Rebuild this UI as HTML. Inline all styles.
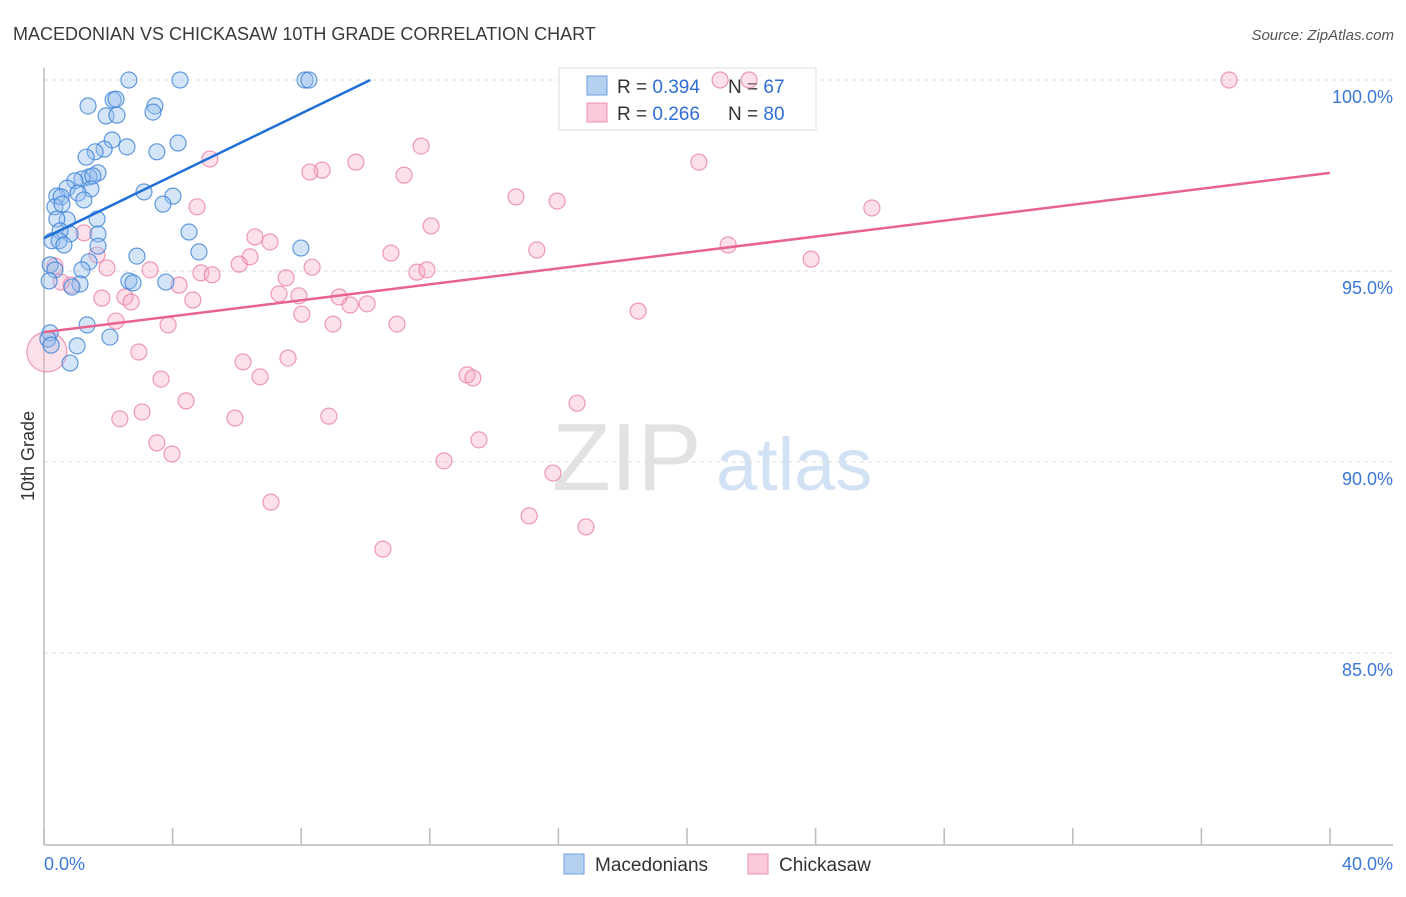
<!DOCTYPE html>
<html><head><meta charset="utf-8"><style>
body{margin:0;background:#fff;font-family:"Liberation Sans",sans-serif}
svg text{font-family:"Liberation Sans",sans-serif}
</style></head><body>
<svg id="chart" width="1406" height="892" viewBox="0 0 1406 892" xmlns="http://www.w3.org/2000/svg">
<text x="13" y="40" font-size="18" fill="#3a3a3a">MACEDONIAN VS CHICKASAW 10TH GRADE CORRELATION CHART</text>
<text x="1394" y="40" font-size="15" fill="#555" text-anchor="end" font-style="italic">Source: ZipAtlas.com</text>
<g>
<text x="552" y="490" font-size="96" fill="#e2e2e2" font-family="Liberation Serif,serif">ZIP</text>
<text x="716" y="490" font-size="74" fill="#d2e2f4">atlas</text>
</g>
<g id="grid"></g>
<g id="axes"></g>
<g>
<rect x="559" y="68" width="257" height="62" fill="#fff" stroke="#ddd"/>
<rect x="587" y="76" width="20" height="19" fill="#b5d1f2" stroke="#6a9fe0"/>
<rect x="587" y="103" width="20" height="19" fill="#fbc9d8" stroke="#ee93b1"/>
<text x="617" y="93" font-size="19" fill="#333">R = <tspan fill="#2f6fd6">0.394</tspan></text>
<text x="728" y="93" font-size="19" fill="#333">N = <tspan fill="#2f6fd6">67</tspan></text>
<text x="617" y="120" font-size="19" fill="#333">R = <tspan fill="#2f6fd6">0.266</tspan></text>
<text x="728" y="120" font-size="19" fill="#333">N = <tspan fill="#2f6fd6">80</tspan></text>
</g>
<g id="pink"></g>
<g id="blue"></g>
<g id="trends"></g>
<text transform="translate(34,456) rotate(-90)" font-size="18" fill="#333" text-anchor="middle">10th Grade</text>
<g>
<rect x="564" y="854" width="20" height="20" fill="#b5d1f2" stroke="#6a9fe0"/>
<text x="595" y="871" font-size="19" fill="#333">Macedonians</text>
</g>
<g>
<rect x="748" y="854" width="20" height="20" fill="#fbc9d8" stroke="#ee93b1"/>
<text x="779" y="871" font-size="19" fill="#333">Chickasaw</text>
</g>
</svg>
<script>
const blueX=[2.64,4.23,8.12,8.24,1.37,2.15,2.24,3.45,3.39,1.93,2.27,2.12,1.87,1.59,2.58,4.17,3.51,1.31,1.68,1.40,1.18,0.96,1.52,0.72,1.46,1.06,0.40,0.53,1.24,3.11,4.01,3.70,0.34,0.56,0.72,0.40,1.65,4.51,1.68,0.81,0.50,0.25,0.47,0.62,1.68,7.99,4.82,2.89,1.40,0.19,1.18,0.34,2.64,2.77,3.79,0.16,1.12,0.87,1.34,0.19,0.12,1.03,2.05,0.81,0.22];
const blueY=[100,100,100,100,99.32,99.48,99.50,99.32,99.16,99.06,99.08,98.43,98.19,98.12,98.25,98.35,98.12,97.98,97.57,97.46,97.41,97.36,97.49,97.17,97.15,97.04,96.96,96.94,96.86,97.07,96.96,96.75,96.68,96.75,96.34,96.36,96.36,96.02,95.97,95.97,96.05,95.79,95.79,95.68,95.65,95.60,95.50,95.39,95.24,95.16,95.03,95.03,94.74,94.69,94.71,94.74,94.66,94.58,93.59,93.38,93.22,93.04,93.27,92.59,93.06];
const pinkX=[21.03,21.93,36.86,5.16,11.73,9.70,8.65,8.27,11.20,20.37,14.68,15.96,4.76,25.75,12.04,1.24,6.56,7.03,15.33,10.79,21.28,23.86,1.65,6.41,1.96,3.30,6.07,8.34,0.34,4.88,5.23,7.53,11.60,11.91,0.84,0.53,4.20,1.80,2.52,2.71,4.63,7.31,7.93,9.18,9.52,10.05,8.02,18.48,2.24,3.86,8.99,10.98,2.95,6.19,7.59,3.64,6.72,13.16,13.34,4.42,16.58,3.05,2.36,5.94,8.86,3.51,3.98,13.53,12.44,15.83,7.06,15.09,16.86,10.54,0.09];
const pinkY=[100,100,100,97.93,98.27,97.85,97.64,97.59,97.51,97.85,96.94,96.83,96.68,96.65,96.18,96.0,95.89,95.76,95.55,95.47,95.68,95.31,95.42,95.37,95.08,95.03,95.18,95.10,95.13,94.95,94.90,94.82,94.97,95.03,94.63,94.71,94.63,94.29,94.32,94.19,94.24,94.40,94.35,94.32,94.11,94.14,93.87,93.95,93.69,93.59,93.61,93.61,92.88,92.62,92.72,92.17,92.23,92.28,92.20,91.60,91.54,91.31,91.13,91.15,91.20,90.50,90.21,90.58,90.03,89.71,88.95,88.59,88.30,87.72,92.88];
const blueTrendX=[0,10.15], blueTrendY=[95.86,100];
const pinkTrendX=[0,40], pinkTrendY=[93.40,97.57];
const yTicks=[100,95,90,85];
const yTickLabels=["100.0%","95.0%","90.0%","85.0%"];
const xTickVals=[0,4,8,12,16,20,24,28,32,36,40];

const X0=44,X1=1330,YTOP=80,YPX5=191;
const sx=v=>X0+(v/40)*(X1-X0);
const sy=v=>YTOP+(100-v)/5*YPX5;
const NS="http://www.w3.org/2000/svg";
function mk(tag,attrs,parent){const e=document.createElementNS(NS,tag);for(const k in attrs)e.setAttribute(k,attrs[k]);parent.appendChild(e);return e;}
const grid=document.getElementById('grid'),axes=document.getElementById('axes');
yTicks.forEach((t,i)=>{
 const l=mk('line',{x1:44,x2:1393,y1:sy(t),y2:sy(t),stroke:'#ddd','stroke-dasharray':'4,4'},grid);
 
 
 const tx=mk('text',{x:1393,y:sy(t)+23,'font-size':18,fill:'#3b78d8','text-anchor':'end'},axes);
 tx.textContent=yTickLabels[i];
 
 
});
const ya=mk('line',{x1:44,x2:44,y1:68,y2:845,stroke:'#bbb','stroke-width':1.5},axes);


const xa=mk('line',{x1:44,x2:1393,y1:845,y2:845,stroke:'#bbb','stroke-width':1.5},axes);


xTickVals.forEach(v=>{
 const t=mk('line',{x1:sx(v),x2:sx(v),y1:828,y2:845,stroke:'#bbb','stroke-width':1.5},axes);
 
 
});
const xl0=mk('text',{x:44,y:870,'font-size':18,fill:'#3b78d8'},axes);xl0.textContent='0.0%';


const xl1=mk('text',{x:1393,y:870,'font-size':18,fill:'#3b78d8','text-anchor':'end'},axes);xl1.textContent='40.0%';



const pinkG=document.getElementById('pink');
pinkX.forEach((x,i)=>{
 const big=i===pinkX.length-1;
 const c=mk('circle',{cx:sx(x),cy:sy(pinkY[i]),r:big?20:8,fill:'rgba(246,170,195,0.35)',stroke:'rgba(232,120,160,0.75)','stroke-width':1.2},pinkG);
 
 
});
const blueG=document.getElementById('blue');
blueX.forEach((x,i)=>{
 const c=mk('circle',{cx:sx(x),cy:sy(blueY[i]),r:8,fill:'rgba(150,190,238,0.4)',stroke:'rgba(60,130,215,0.8)','stroke-width':1.2},blueG);
 
 
});
const tr=document.getElementById('trends');
const bl=mk('line',{x1:sx(blueTrendX[0]),y1:sy(blueTrendY[0]),x2:sx(blueTrendX[1]),y2:sy(blueTrendY[1]),stroke:'#1f6fd6','stroke-width':2.5},tr);


const pl=mk('line',{x1:sx(pinkTrendX[0]),y1:sy(pinkTrendY[0]),x2:sx(pinkTrendX[1]),y2:sy(pinkTrendY[1]),stroke:'#e8648f','stroke-width':2.5},tr);


</script>
</body></html>
